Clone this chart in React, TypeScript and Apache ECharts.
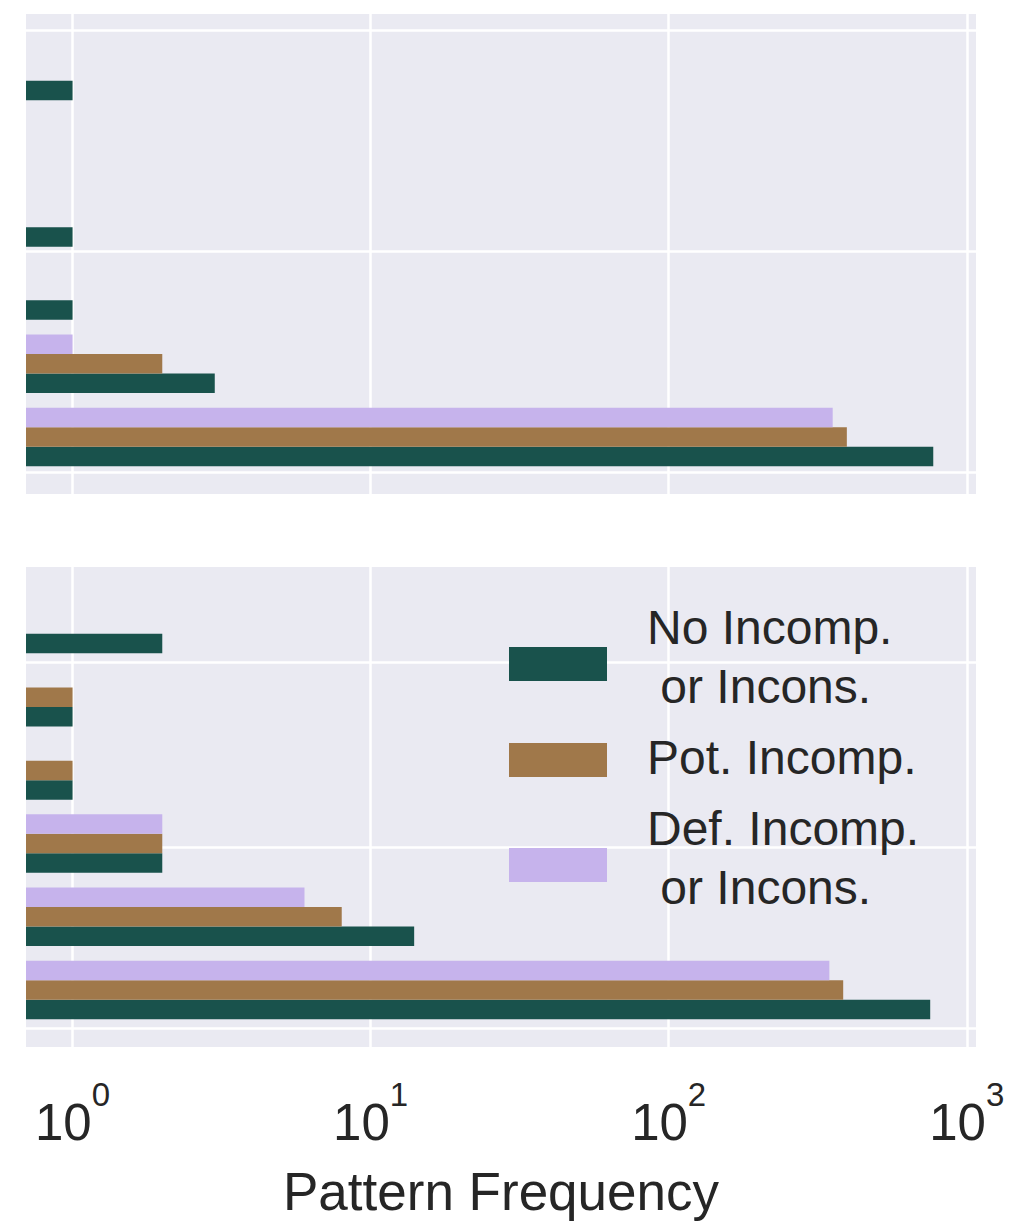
import React, { useEffect, useRef } from 'react';
import * as echarts from 'echarts';

// Category slots along the vertical axis (0 = bottom group)
const CATEGORY_INDEX = [0, 1, 2, 3, 4, 5];

const SERIES_NAMES = ['No Incomp.\n or Incons.', 'Pot. Incomp.', 'Def. Incomp.\n or Incons.'];
const SERIES_COLORS = ['#19524c', '#a0784a', '#c6b3ec'];

// Upper panel frequencies per category
const TOP_NO_INCOMP = [772, 3, 1, 1, null, 1];
const TOP_POT_INCOMP = [396, 2, null, null, null, null];
const TOP_DEF_INCOMP = [355, 1, null, null, null, null];

// Lower panel frequencies per category
const BOTTOM_NO_INCOMP = [754, 14, 2, 1, 1, 2];
const BOTTOM_POT_INCOMP = [385, 8, 2, 1, 1, null];
const BOTTOM_DEF_INCOMP = [346, 6, 2, null, null, null];

const X_TICKS = [1, 10, 100, 1000];
const TOP_Y_TICKS = [-0.48, 2.54, 5.56];
const BOTTOM_Y_TICKS = [-0.52, 1.95, 4.48];

const X_MIN = 0.698;
const X_MAX = 1074;
const Y_MIN = -0.78;
const Y_MAX = 5.78;
const BAR_SLOT = 0.8 / 3;

const FONT = "'Liberation Sans', Arial, Helvetica, sans-serif";
const TEXT_COLOR = '#262626';
const PANEL_BG = '#eaeaf2';

const renderBar = (slot: number, color: string) => (_params: any, api: any) => {
  const value = api.value(0);
  const cat = api.value(1);
  const center = cat + slot * BAR_SLOT;
  const p0 = api.coord([X_MIN, center + BAR_SLOT / 2]);
  const p1 = api.coord([value, center - BAR_SLOT / 2]);
  return {
    type: 'rect',
    shape: { x: p0[0], y: p0[1], width: p1[0] - p0[0], height: p1[1] - p0[1] },
    style: { fill: color },
  };
};

const panelSeries = (gridIndex: number, groups: (number | null)[][]) =>
  groups.map((vals, k) => ({
    type: 'custom',
    name: SERIES_NAMES[k],
    xAxisIndex: gridIndex,
    yAxisIndex: gridIndex,
    silent: true,
    renderItem: renderBar(k - 1, SERIES_COLORS[k]),
    encode: { x: 0, y: 1 },
    itemStyle: { color: SERIES_COLORS[k] },
    data: CATEGORY_INDEX.filter((i) => vals[i] != null).map((i) => [vals[i], i]),
  }));

const xAxisFor = (gridIndex: number, withLabels: boolean) => ({
  type: 'log',
  logBase: 10,
  gridIndex,
  min: X_MIN,
  max: X_MAX,
  axisLine: { show: false },
  axisTick: { show: false, customValues: X_TICKS },
  axisLabel: {
    show: withLabels,
    customValues: X_TICKS,
    margin: 31,
    formatter: (v: number) => `{b|10}{s|${Math.round(Math.log10(v))}}`,
    rich: {
      b: { fontSize: 51, fontFamily: FONT, color: TEXT_COLOR, lineHeight: 70, verticalAlign: 'bottom' },
      s: { fontSize: 33, fontFamily: FONT, color: TEXT_COLOR, lineHeight: 8, verticalAlign: 'top' },
    },
  },
  splitLine: { show: true, lineStyle: { color: '#ffffff', width: 2.5 } },
  name: withLabels ? 'Pattern Frequency' : '',
  nameLocation: 'middle',
  nameGap: 118,
  nameTextStyle: { fontSize: 53, fontFamily: FONT, color: TEXT_COLOR },
});

const yAxisFor = (gridIndex: number, ticks: number[]) => ({
  type: 'value',
  gridIndex,
  min: Y_MIN,
  max: Y_MAX,
  axisLine: { show: false },
  axisTick: { show: false, customValues: ticks },
  axisLabel: { show: false, customValues: ticks },
  splitLine: { show: true, lineStyle: { color: '#ffffff', width: 2.5 } },
});

// Legend drawn as swatches and labels inside the lower panel
const LEGEND_SWATCH_Y = [647, 743, 848];
const LEGEND_TEXT_Y = [657, 757, 858];

const legendGraphic = SERIES_NAMES.flatMap((name, k) => [
  {
    type: 'rect',
    left: 509,
    top: LEGEND_SWATCH_Y[k],
    shape: { width: 98, height: 34 },
    style: { fill: SERIES_COLORS[k] },
    z: 10,
  },
  {
    type: 'text',
    x: 647,
    y: LEGEND_TEXT_Y[k],
    style: {
      text: name,
      font: `48px ${FONT}`,
      fill: TEXT_COLOR,
      lineHeight: 59,
      verticalAlign: 'middle',
      align: 'left',
    },
    z: 10,
  },
]);

export default function App() {
  const ref = useRef<HTMLDivElement>(null);

  useEffect(() => {
    if (!ref.current) return;
    const chart = echarts.init(ref.current, undefined, { renderer: 'svg' });
    chart.setOption({
      animation: false,
      backgroundColor: '#ffffff',
      grid: [
        { left: 26, top: 14, width: 950, height: 480, show: true, backgroundColor: PANEL_BG, borderWidth: 0 },
        { left: 26, top: 567, width: 950, height: 480, show: true, backgroundColor: PANEL_BG, borderWidth: 0 },
      ],
      xAxis: [xAxisFor(0, false), xAxisFor(1, true)],
      yAxis: [yAxisFor(0, TOP_Y_TICKS), yAxisFor(1, BOTTOM_Y_TICKS)],
      series: [
        ...panelSeries(0, [TOP_NO_INCOMP, TOP_POT_INCOMP, TOP_DEF_INCOMP]),
        ...panelSeries(1, [BOTTOM_NO_INCOMP, BOTTOM_POT_INCOMP, BOTTOM_DEF_INCOMP]),
      ],
      graphic: legendGraphic,
    });
    return () => chart.dispose();
  }, []);

  return (
    <div
      ref={ref}
      style={{ position: 'absolute', left: 0, top: 0, width: 1010, height: 1223 }}
    />
  );
}
